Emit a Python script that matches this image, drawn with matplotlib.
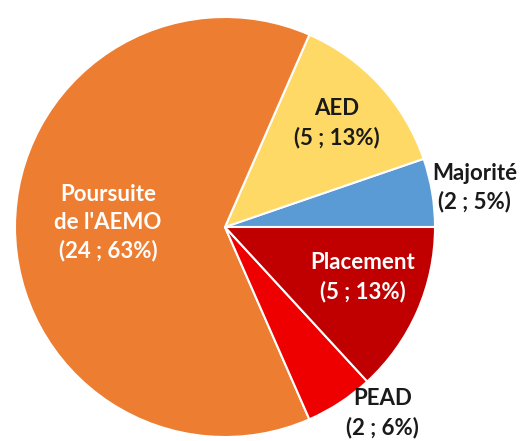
import matplotlib
matplotlib.use("Agg")
from matplotlib import pyplot as plt

# data (counterclockwise from east)
labels = ["Majorité", "AED", "Poursuite\nde l'AEMO", "PEAD", "Placement"]
counts = [2, 5, 24, 2, 5]
percents = [5, 13, 63, 6, 13]
colors = ["#5B9BD5", "#FFD966", "#ED7D31", "#EE0000", "#C00000"]
text_colors = ["#1a1a1a", "#1a1a1a", "white", "#1a1a1a", "white"]

# label positions in pie radius units
label_x = [1.19, 0.533, -0.557, 0.752, 0.657]
label_y = [0.186, 0.495, 0.019, -0.886, -0.238]

plt.rcParams['font.family'] = ['Lato', 'DejaVu Sans']

fig = plt.figure(figsize=(5.3, 4.41), dpi=100)
ax = fig.add_axes([0, 0, 1, 1])

ax.pie(counts, colors=colors, startangle=0, counterclock=True, radius=1,
       wedgeprops=dict(edgecolor='white', linewidth=1.5))

for i, lab in enumerate(labels):
    ax.text(label_x[i], label_y[i], f"{lab}\n({counts[i]} ; {percents[i]}%)",
            ha='center', va='center', fontsize=16, fontweight='bold',
            color=text_colors[i], linespacing=1.4)

# 1 unit = 210 px, centre at (225, 227) from top-left
r = 210
ax.set_xlim(-225 / r, (530 - 225) / r)
ax.set_ylim(-(441 - 227) / r, 227 / r)
ax.set_aspect('auto')
ax.axis('off')

fig.savefig('out.png', dpi=100)
